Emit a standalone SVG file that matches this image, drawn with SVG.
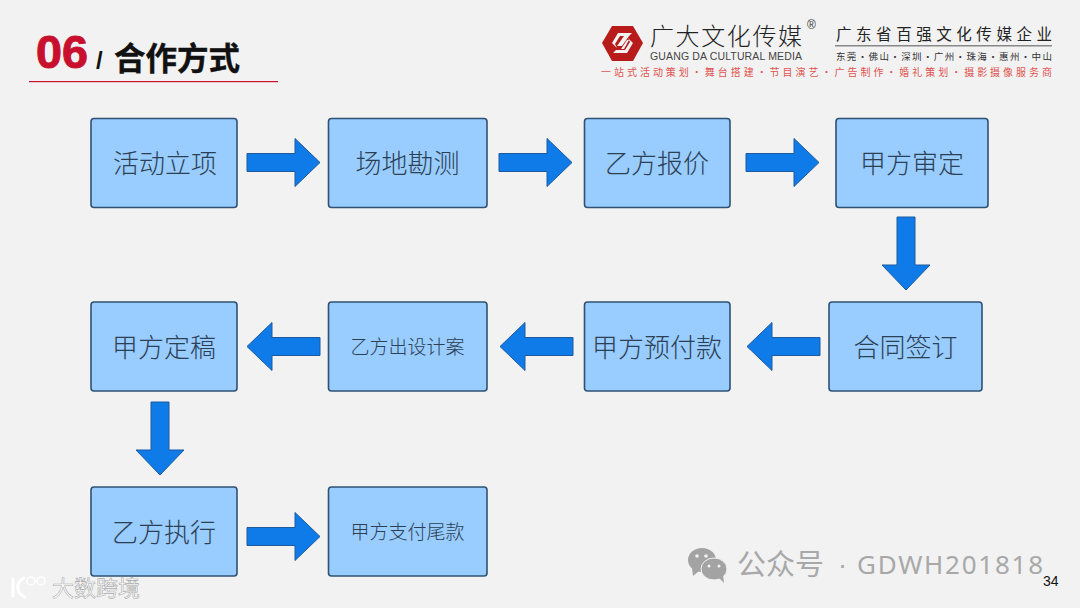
<svg xmlns="http://www.w3.org/2000/svg" width="1080" height="608" viewBox="0 0 1080 608">
<style>
text{font-family:"Liberation Sans","Noto Sans CJK SC",sans-serif}
.b{fill:#99ccff;stroke:#2f5273;stroke-width:1.6}
.t{font-size:26px;fill:#2b3f55;text-anchor:middle;font-family:"Noto Sans CJK SC",sans-serif;font-weight:300}
.s{font-size:19px;fill:#2b3f55;text-anchor:middle;font-family:"Noto Sans CJK SC",sans-serif;font-weight:300}
.a{fill:#0f7be8;stroke:#1f5a9e;stroke-width:1}
.cjk{font-family:"Noto Sans CJK SC",sans-serif}
.lat{font-family:"Noto Sans",sans-serif}
.wm{fill:#fff;stroke:#aaa;stroke-width:.6}
</style>
<defs>
<path id="ar" d="M0-9H48V-24L73 0L48 24V9H0Z"/>
</defs>
<rect width="1080" height="608" fill="#f2f2f2"/>
<g id="title">
<text x="36" y="68" font-size="47" font-weight="700" fill="#c8102e" stroke="#c8102e" stroke-width="1" textLength="52" lengthAdjust="spacingAndGlyphs">06</text>
<text x="96" y="69" font-size="24" font-weight="700" fill="#111">/</text>
<text x="114" y="70" class="cjk" font-size="31.500" font-weight="700" fill="#111" stroke="#111" stroke-width=".4">合作方式</text>
<rect x="29" y="81" width="249" height="1.200" fill="#c8102e"/>
</g>
<g id="logo">
<path d="M602 43L612 26H633L643 43L633 61H612Z" fill="#b81c1a"/>
<path d="M612 43L618 33H632L629 36H620L615 44L617 48ZM633 43L627 53H613L616 50H625L630 42L628 38Z" fill="#f2f2f2"/>
<path d="M617 46L624 36H629L622 46ZM621 49L627 40H629L624 49Z" fill="#f2f2f2"/>
<text x="650" y="45" class="cjk" font-size="24" font-weight="300" fill="#222" textLength="152">广大文化传媒</text>
<text x="807" y="29" font-size="12" fill="#333">®</text>
<text x="650" y="60" font-size="10.500" fill="#444" textLength="152">GUANG DA CULTURAL MEDIA</text>
<text x="836" y="40" class="cjk" font-size="15.500" fill="#222" textLength="216">广东省百强文化传媒企业</text>
<rect x="835" y="45" width="217" height="1.500" fill="#888"/>
<text x="836" y="60" class="cjk" font-size="9.500" fill="#333" textLength="216">东莞·佛山·深圳·广州·珠海·惠州·中山</text>
<text x="601" y="76" class="cjk" font-size="10" fill="#e0524f" textLength="451">一站式活动策划·舞台搭建·节目演艺·广告制作·婚礼策划·摄影摄像服务商</text>
</g>
<g id="connectors" class="a">
<use href="#ar" transform="translate(247 162.500)"/>
<use href="#ar" transform="translate(499 162.500)"/>
<use href="#ar" transform="translate(746 162.500)"/>
<use href="#ar" transform="translate(906 217) rotate(90)"/>
<use href="#ar" transform="translate(820 346.500) rotate(180)"/>
<use href="#ar" transform="translate(573 346.500) rotate(180)"/>
<use href="#ar" transform="translate(320 346.500) rotate(180)"/>
<use href="#ar" transform="translate(160 402) rotate(90)"/>
<use href="#ar" transform="translate(247 536.500)"/>
</g>
<g id="n1"><rect class="b" x="91" y="118.500" width="146" height="89" rx="3"/><text class="t" x="165" y="173">活动立项</text></g>
<g id="n2"><rect class="b" x="328.500" y="118.500" width="158.500" height="89" rx="3"/><text class="t" x="407.500" y="173">场地勘测</text></g>
<g id="n3"><rect class="b" x="584.500" y="118.500" width="145.500" height="89" rx="3"/><text class="t" x="657" y="173">乙方报价</text></g>
<g id="n4"><rect class="b" x="836" y="118.500" width="152" height="89" rx="3"/><text class="t" x="912" y="173">甲方审定</text></g>
<g id="n5"><rect class="b" x="829" y="302" width="153" height="89" rx="3"/><text class="t" x="905.500" y="357">合同签订</text></g>
<g id="n6"><rect class="b" x="584.500" y="302" width="145.500" height="89" rx="3"/><text class="t" x="657" y="357">甲方预付款</text></g>
<g id="n7"><rect class="b" x="328.500" y="302" width="158.500" height="89" rx="3"/><text class="s" x="407.500" y="354">乙方出设计案</text></g>
<g id="n8"><rect class="b" x="91" y="302" width="146" height="89" rx="3"/><text class="t" x="164" y="357">甲方定稿</text></g>
<g id="n9"><rect class="b" x="91" y="487" width="146" height="89" rx="3"/><text class="t" x="164" y="542">乙方执行</text></g>
<g id="n10"><rect class="b" x="328.500" y="487" width="158.500" height="89" rx="3"/><text class="s" x="407.500" y="539">甲方支付尾款</text></g>
<g id="footer">
<ellipse cx="702" cy="560" rx="14" ry="12" fill="#a3a3a3"/>
<path d="M692 568L693 576L699 571Z" fill="#a3a3a3"/>
<ellipse cx="714" cy="569" rx="13" ry="11" fill="#a3a3a3" stroke="#f2f2f2" stroke-width="1"/>
<path d="M719 578L724 583L723 575Z" fill="#a3a3a3"/>
<circle cx="697" cy="556" r="1.800" fill="#f2f2f2"/><circle cx="706" cy="556" r="1.800" fill="#f2f2f2"/>
<circle cx="709" cy="566" r="1.500" fill="#f2f2f2"/><circle cx="719" cy="566" r="1.500" fill="#f2f2f2"/>
<text x="737" y="575" class="cjk" font-size="29" fill="#a8a8a8">公众号</text>
<text x="838" y="574" font-size="27" fill="#a8a8a8">·</text>
<text x="857" y="574" class="lat" font-size="26" fill="#a8a8a8" textLength="186">GDWH201818</text>
<text x="1043" y="586" font-size="14" fill="#111">34</text>
<path d="M13 579V596M24 578C16 582 15 592 25 597" fill="none" stroke="#fff" stroke-width="3" stroke-linecap="round"/>
<circle cx="31" cy="581" r="4" fill="none" stroke="#fff" stroke-width="1.500"/>
<circle cx="41" cy="581" r="4" fill="none" stroke="#fff" stroke-width="1.500"/>
<text x="52" y="596" class="cjk wm" font-size="22">大数跨境</text>
</g>
</svg>
